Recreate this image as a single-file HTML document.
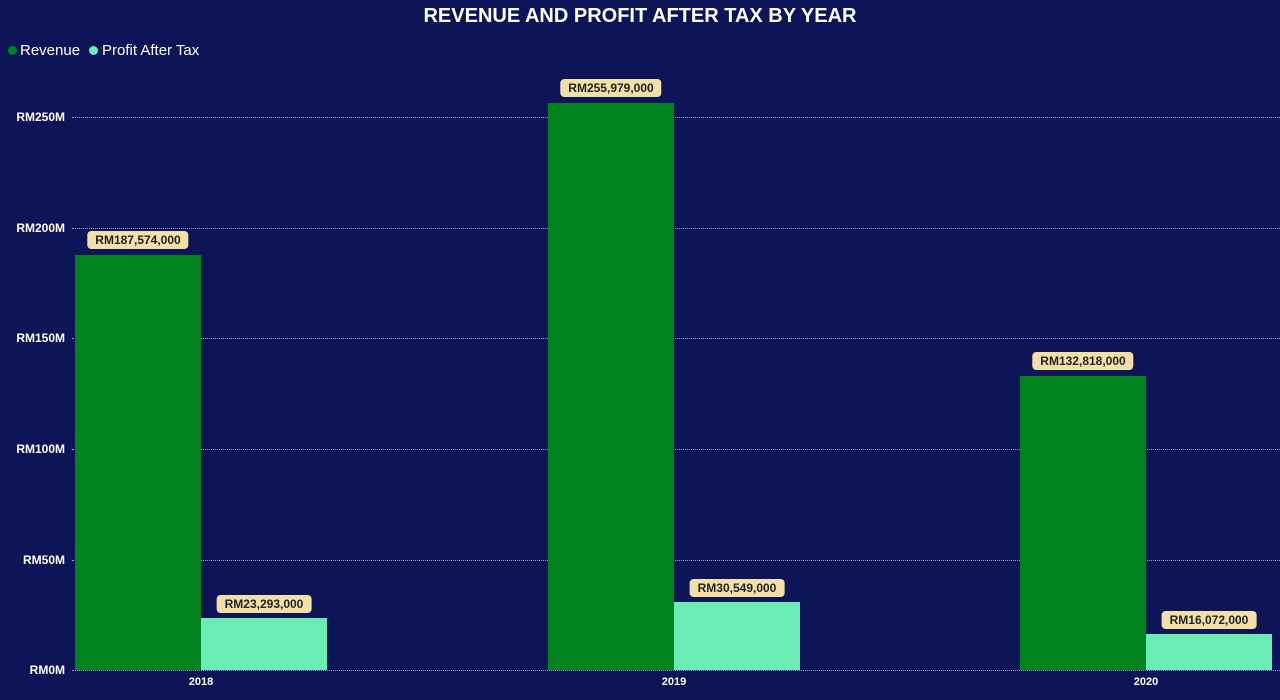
<!DOCTYPE html>
<html><head><style>
body{margin:0;width:1280px;height:700px;background:#0d1458;font-family:"Liberation Sans",sans-serif;position:relative;overflow:hidden}
.a{position:absolute}
.g{position:absolute;left:72px;width:1208px;border-top:1px dotted #9aa0c8;height:0}
.y{position:absolute;right:1215px;color:#fff;font-weight:bold;font-size:12px;white-space:nowrap}
.b{position:absolute;width:126px}
.r{background:#00821f}.p{background:#6aeeb5}
.l{position:absolute;background:#f3e0a6;color:#222;font-size:12px;font-weight:bold;height:18px;line-height:18px;padding:0 8px;border-radius:4px;transform:translateX(-50%);white-space:nowrap}
.x{position:absolute;top:676px;color:#fff;font-weight:bold;font-size:11px;transform:translateX(-50%)}
</style></head><body>
<div class="a" style="left:0;width:1280px;top:5px;text-align:center;color:#fff;font-weight:bold;font-size:20px">REVENUE AND PROFIT AFTER TAX BY YEAR</div>
<div class="a" style="left:8px;top:46px;width:9px;height:9px;border-radius:50%;background:#00821f"></div>
<div class="a" style="left:20px;top:42px;color:#fff;font-size:15px">Revenue</div>
<div class="a" style="left:89px;top:46px;width:9px;height:9px;border-radius:50%;background:#6aeeb5"></div>
<div class="a" style="left:102px;top:42px;color:#fff;font-size:15px">Profit After Tax</div>
<div class="g" style="top:117px"></div><div class="g" style="top:228px"></div><div class="g" style="top:338px"></div><div class="g" style="top:449px"></div><div class="g" style="top:560px"></div><div class="g" style="top:670px"></div>
<div class="y" style="top:110px">RM250M</div><div class="y" style="top:221px">RM200M</div><div class="y" style="top:331px">RM150M</div><div class="y" style="top:442px">RM100M</div><div class="y" style="top:553px">RM50M</div><div class="y" style="top:663px">RM0M</div>
<div class="b r" style="left:75px;top:255px;height:415px"></div>
<div class="b p" style="left:201px;top:618px;height:52px"></div>
<div class="b r" style="left:548px;top:103px;height:567px"></div>
<div class="b p" style="left:674px;top:602px;height:68px"></div>
<div class="b r" style="left:1020px;top:376px;height:294px"></div>
<div class="b p" style="left:1146px;top:634px;height:36px"></div>
<div class="l" style="left:138px;top:231px">RM187,574,000</div>
<div class="l" style="left:264px;top:595px">RM23,293,000</div>
<div class="l" style="left:611px;top:79px">RM255,979,000</div>
<div class="l" style="left:737px;top:579px">RM30,549,000</div>
<div class="l" style="left:1083px;top:352px">RM132,818,000</div>
<div class="l" style="left:1209px;top:611px">RM16,072,000</div>
<div class="x" style="left:201px">2018</div><div class="x" style="left:674px">2019</div><div class="x" style="left:1146px">2020</div>
</body></html>
